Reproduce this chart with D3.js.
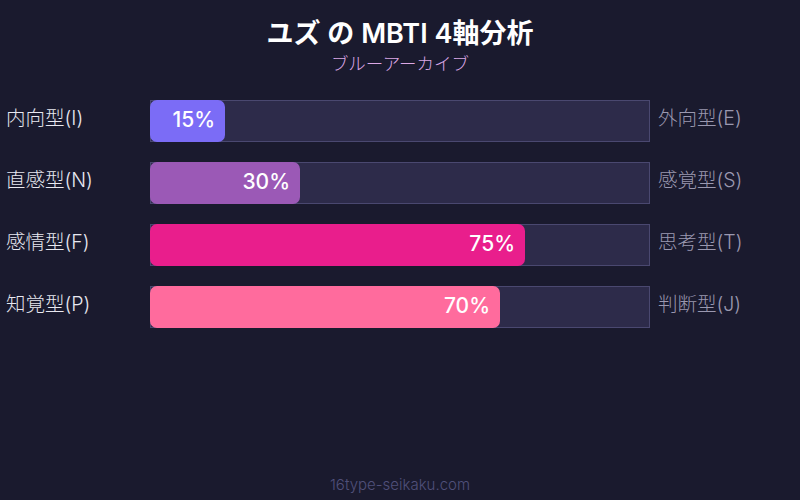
<!DOCTYPE html>
<html>
<head>
<meta charset="utf-8">
<script src="https://cdn.jsdelivr.net/npm/d3@7"></script>
<style>
  html, body { margin: 0; padding: 0; background: #1a1a2e; }
  svg { display: block; font-family: Inter, "Noto Sans CJK JP", sans-serif; }
</style>
</head>
<body>
<div id="chart"></div>
<script>
const leftLabels = ["内向型(I)", "直感型(N)", "感情型(F)", "知覚型(P)"];
const rightLabels = ["外向型(E)", "感覚型(S)", "思考型(T)", "判断型(J)"];
const values = [15, 30, 75, 70];
const barColors = ["#7b6cf6", "#9b59b6", "#e91e8c", "#ff6b9d"];

const width = 800, height = 500;

const svg = d3.select("#chart")
    .append("svg")
    .attr("width", width)
    .attr("height", height);

svg.append("rect")
    .attr("width", width)
    .attr("height", height)
    .attr("fill", "#1a1a2e");

// title
svg.append("text")
    .attr("x", width / 2)
    .attr("y", 43)
    .attr("text-anchor", "middle")
    .attr("fill", "#ffffff")
    .style("font-size", "27px")
    .style("font-weight", "600")
    .text("ユズ の MBTI 4軸分析");

svg.append("text")
    .attr("x", width / 2)
    .attr("y", 70)
    .attr("text-anchor", "middle")
    .attr("fill", "#dca8e6")
    .style("font-size", "17.5px")
    .style("font-weight", "300")
    .text("ブルーアーカイブ");

// scales: step 62, bar height 42
const x = d3.scaleLinear().domain([0, 100]).range([150, 650]);
const y = d3.scaleBand()
    .domain(leftLabels)
    .range([100, 100 + 62 * 4 - 20])
    .paddingInner(20 / 62)
    .paddingOuter(0);

const rows = svg.selectAll("g.row")
    .data(leftLabels.map((l, i) => ({ left: l, right: rightLabels[i], value: values[i], color: barColors[i] })))
    .enter()
    .append("g")
    .attr("class", "row");

// track
rows.append("rect")
    .attr("x", x(0) + 0.5)
    .attr("y", d => y(d.left) + 0.5)
    .attr("width", x(100) - x(0) - 1)
    .attr("height", y.bandwidth() - 1)
    .attr("fill", "#2d2b4a")
    .attr("stroke", "#4a4870")
    .attr("stroke-width", 1);

// bar
rows.append("rect")
    .attr("x", x(0))
    .attr("y", d => y(d.left))
    .attr("width", d => x(d.value) - x(0))
    .attr("height", y.bandwidth())
    .attr("rx", 7)
    .attr("fill", d => d.color);

// value text
rows.append("text")
    .attr("x", d => x(d.value) - 10)
    .attr("y", d => y(d.left) + y.bandwidth() / 2)
    .attr("dy", "0.3em")
    .attr("text-anchor", "end")
    .attr("fill", "#ffffff")
    .style("font-size", "21px")
    .style("font-weight", "500")
    .text(d => d.value + "%");

// left labels
rows.append("text")
    .attr("x", 6)
    .attr("y", d => y(d.left) + y.bandwidth() / 2)
    .attr("dy", "0.2em")
    .attr("fill", "#e8e8f0")
    .style("font-size", "19.5px")
    .style("font-weight", "300")
    .text(d => d.left);

// right labels
rows.append("text")
    .attr("x", 658)
    .attr("y", d => y(d.left) + y.bandwidth() / 2)
    .attr("dy", "0.2em")
    .attr("fill", "#9a98b0")
    .style("font-size", "19.5px")
    .style("font-weight", "300")
    .text(d => d.right);

// footer
svg.append("text")
    .attr("x", width / 2)
    .attr("y", 490)
    .attr("text-anchor", "middle")
    .attr("fill", "#50507a")
    .style("font-size", "15px")
    .style("font-weight", "300")
    .text("16type-seikaku.com");
</script>
</body>
</html>
